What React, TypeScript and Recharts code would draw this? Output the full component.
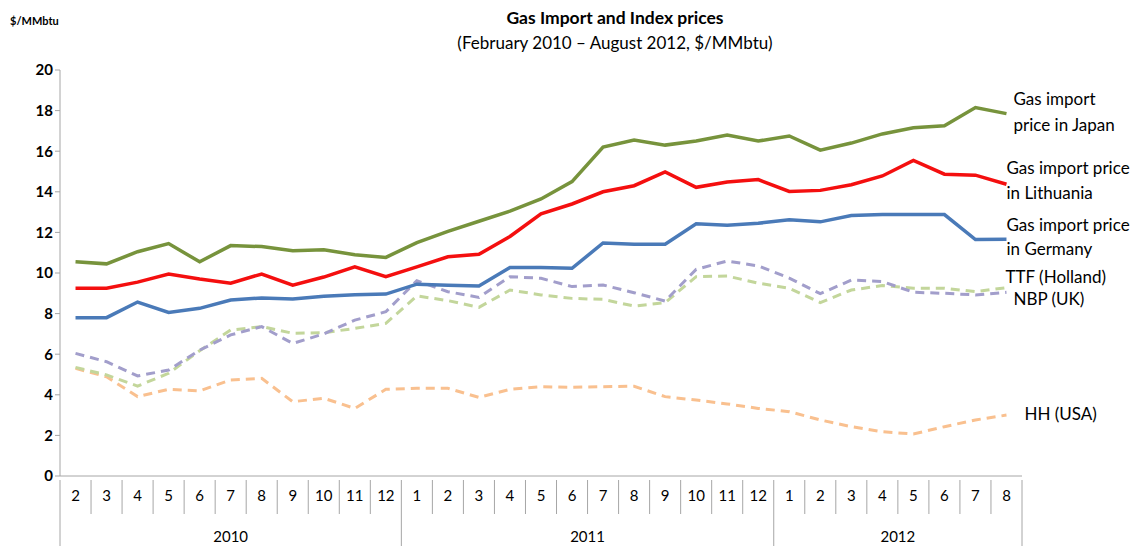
import React from 'react';
import { LineChart, Line, XAxis, YAxis, LabelList } from 'recharts';

const months = [
  '2', '3', '4', '5', '6', '7', '8', '9', '10', '11', '12',
  '1', '2', '3', '4', '5', '6', '7', '8', '9', '10', '11', '12',
  '1', '2', '3', '4', '5', '6', '7', '8',
];
const years = [
  { label: '2010', start: 0, count: 11 },
  { label: '2011', start: 11, count: 12 },
  { label: '2012', start: 23, count: 8 },
];
const japan = [
  10.55, 10.45, 11.05, 11.45, 10.55, 11.35, 11.3, 11.1, 11.15, 10.9, 10.77,
  11.5, 12.05, 12.55, 13.05, 13.65, 14.5, 16.2, 16.55, 16.3, 16.5, 16.8, 16.5,
  16.75, 16.05, 16.4, 16.85, 17.15, 17.25, 18.15, 17.85,
];
const lithuania = [
  9.25, 9.25, 9.55, 9.95, 9.7, 9.5, 9.95, 9.4, 9.8, 10.3, 9.82,
  10.3, 10.8, 10.92, 11.8, 12.92, 13.4, 14.0, 14.3, 14.98, 14.22, 14.48, 14.6,
  14.02, 14.07, 14.35, 14.78, 15.55, 14.87, 14.82, 14.37,
];
const germany = [
  7.8, 7.8, 8.57, 8.06, 8.26, 8.67, 8.77, 8.72, 8.86, 8.93, 8.96,
  9.45, 9.4, 9.36, 10.27, 10.27, 10.23, 11.48, 11.42, 11.42, 12.43, 12.35, 12.45,
  12.62, 12.52, 12.83, 12.88, 12.88, 12.88, 11.65, 11.66,
];
const ttf = [
  6.04, 5.63, 4.93, 5.22, 6.2, 6.95, 7.36, 6.53, 7.0, 7.68, 8.09,
  9.62, 9.08, 8.8, 9.82, 9.74, 9.33, 9.41, 9.03, 8.62, 10.18, 10.59, 10.35,
  9.75, 8.98, 9.65, 9.58, 9.05, 9.0, 8.92, 9.05,
];
const nbp = [
  5.35, 4.98, 4.43, 5.06, 6.17, 7.19, 7.36, 7.03, 7.06, 7.27, 7.52,
  8.87, 8.64, 8.31, 9.16, 8.92, 8.75, 8.7, 8.37, 8.54, 9.82, 9.85, 9.5,
  9.25, 8.54, 9.16, 9.38, 9.25, 9.25, 9.08, 9.28,
];
const hh = [
  5.3, 4.89, 3.91, 4.27, 4.19, 4.73, 4.81, 3.66, 3.83, 3.33, 4.27,
  4.32, 4.32, 3.87, 4.27, 4.4, 4.37, 4.4, 4.42, 3.91, 3.74, 3.55, 3.33,
  3.17, 2.76, 2.43, 2.18, 2.07, 2.43, 2.76, 3.0,
];
const yTicks = [0, 2, 4, 6, 8, 10, 12, 14, 16, 18, 20];

const data = months.map((m, i) => ({
  key: i,
  month: m,
  japan: japan[i],
  lithuania: lithuania[i],
  germany: germany[i],
  ttf: ttf[i],
  nbp: nbp[i],
  hh: hh[i],
}));

const FONT = 'Lato, "Open Sans", sans-serif';
const CELL = 962 / months.length;
const last = months.length - 1;

// month numbers, cell borders and the year row under the axis
const MonthTick = (props: any) => {
  const { x, y, payload } = props;
  const i = payload.index;
  const left = x - CELL / 2;
  const yr = years.find(g => g.start === i);
  return (
    <g>
      <line x1={left} x2={left} y1={y - 4} y2={yr ? 546 : y + 30} stroke="#a6a6a6" strokeWidth={1} />
      {i === last && (
        <line x1={x + CELL / 2} x2={x + CELL / 2} y1={y - 4} y2={546} stroke="#a6a6a6" strokeWidth={1} />
      )}
      <text x={x} y={y + 17} textAnchor="middle" fontFamily={FONT} fontSize={15} fill="#000">
        {months[i]}
      </text>
      {yr && (
        <text x={left + (yr.count * CELL) / 2} y={y + 58} textAnchor="middle" fontFamily={FONT} fontSize={15} fill="#000">
          {yr.label}
        </text>
      )}
    </g>
  );
};

const endLabel = (lines: string[], dx: number, dys: number[]) => (props: any) => {
  const { x, y, index } = props;
  if (index !== last) return null;
  return (
    <g>
      {lines.map((t, k) => (
        <text key={k} x={x + dx} y={y + dys[k]} fontFamily={FONT} fontSize={17} fill="#000" dominantBaseline="middle">
          {t}
        </text>
      ))}
    </g>
  );
};

export default function App() {
  return (
    <div style={{ position: 'absolute', left: 0, top: 0, width: 1135, height: 546, background: '#fff' }}>
      <div style={{ position: 'absolute', left: 10, top: 14, fontFamily: FONT, fontWeight: 700, fontSize: 11 }}>
        $/MMbtu
      </div>
      <div style={{ position: 'absolute', left: 0, width: 1230, top: 5, textAlign: 'center', fontFamily: FONT, fontSize: 17, lineHeight: '25px' }}>
        <div style={{ fontWeight: 700, fontSize: 17.5 }}>Gas Import and Index prices</div>
        <div>(February 2010 – August 2012, $/MMbtu)</div>
      </div>
      <LineChart width={1135} height={546} data={data} margin={{ top: 70, right: 113, bottom: 0, left: 0 }}>
        <XAxis
          dataKey="key"
          interval={0}
          padding={{ left: CELL / 2, right: CELL / 2 }}
          tickLine={false}
          axisLine={{ stroke: '#a6a6a6' }}
          tick={<MonthTick />}
          height={70}
        />
        <YAxis
          domain={[0, 20]}
          ticks={yTicks}
          width={60}
          axisLine={{ stroke: '#a6a6a6' }}
          tickLine={{ stroke: '#a6a6a6' }}
          tickSize={5}
          tick={{ fontFamily: FONT, fontWeight: 700, fontSize: 15, fill: '#000' }}
        />
        <Line dataKey="hh" stroke="#f9c08f" strokeWidth={3} strokeDasharray="9 6" dot={false} isAnimationActive={false}>
          <LabelList content={endLabel(['HH (USA)'], 18, [1])} />
        </Line>
        <Line dataKey="nbp" stroke="#c3d69b" strokeWidth={3} strokeDasharray="9 6" dot={false} isAnimationActive={false}>
          <LabelList content={endLabel(['NBP (UK)'], 7, [13])} />
        </Line>
        <Line dataKey="ttf" stroke="#a29ecb" strokeWidth={3} strokeDasharray="9 6" dot={false} isAnimationActive={false}>
          <LabelList content={endLabel(['TTF (Holland)'], -1, [-14])} />
        </Line>
        <Line dataKey="germany" stroke="#4a7ab8" strokeWidth={3.5} dot={false} isAnimationActive={false}>
          <LabelList content={endLabel(['Gas import price', 'in Germany'], 0, [-13, 11])} />
        </Line>
        <Line dataKey="lithuania" stroke="#f40f0f" strokeWidth={3.5} dot={false} isAnimationActive={false}>
          <LabelList content={endLabel(['Gas import price', 'in Lithuania'], 0, [-15, 10])} />
        </Line>
        <Line dataKey="japan" stroke="#77933c" strokeWidth={3.5} dot={false} isAnimationActive={false}>
          <LabelList content={endLabel(['Gas import', 'price in Japan'], 7, [-13, 13])} />
        </Line>
      </LineChart>
    </div>
  );
}
